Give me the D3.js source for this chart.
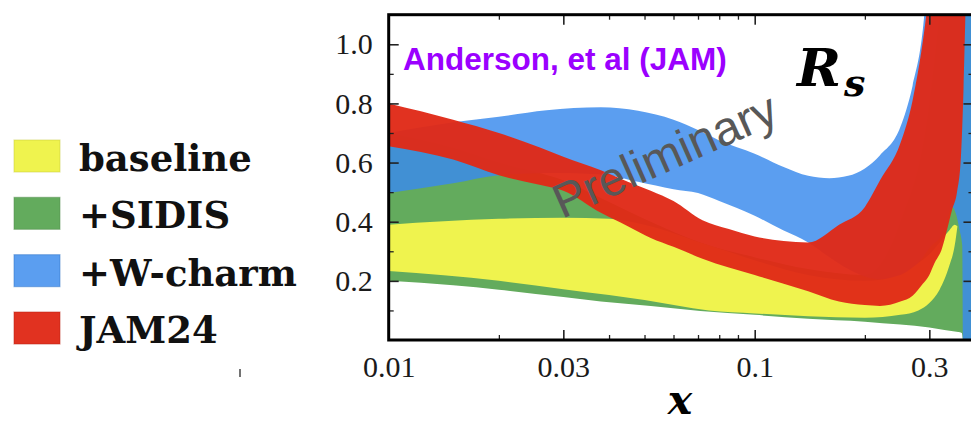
<!DOCTYPE html>
<html>
<head>
<meta charset="utf-8">
<script src="https://cdn.jsdelivr.net/npm/d3@7"></script>
<style>
  html, body { margin: 0; padding: 0; background: #fff; overflow: hidden; }
  svg { display: block; }
</style>
</head>
<body>
<svg id="chart" width="971" height="425"></svg>
<script>
// R_s(x): uncertainty bands of four global fits (baseline, +SIDIS, +W-charm, JAM24)

// ---- data ----
const seriesNames = ["baseline", "+SIDIS", "+W-charm", "JAM24"];

// baseline
const baselineX  = [0.01, 0.02, 0.03, 0.04, 0.05, 0.075, 0.1, 0.14, 0.2, 0.25, 0.28, 0.3, 0.32, 0.34, 0.352, 0.358];
const baselineLo = [0.233, 0.20, 0.172, 0.152, 0.135, 0.10, 0.09, 0.08, 0.075, 0.085, 0.10, 0.125, 0.17, 0.25, 0.32, 0.385];
const baselineHi = [0.39, 0.41, 0.413, 0.41, 0.39, 0.32, 0.27, 0.22, 0.20, 0.22, 0.26, 0.29, 0.33, 0.37, 0.39, 0.385];

// +SIDIS
const sidisX  = [0.01, 0.015, 0.02, 0.03, 0.038, 0.052, 0.071, 0.1, 0.14, 0.2, 0.25, 0.3, 0.33, 0.36, 0.368, 0.371, 0.4];
const sidisLo = [0.20, 0.185, 0.17, 0.145, 0.13, 0.115, 0.098, 0.085, 0.072, 0.062, 0.052, 0.042, 0.034, 0.027, 0.024, 0.0, 0.0];
const sidisHi = [0.70, 0.65, 0.60, 0.54, 0.48, 0.40, 0.33, 0.28, 0.24, 0.22, 0.40, 0.80, 1.30, 2.0, 2.2, 2.3, 2.5];

// +W-charm
const wcharmX  = [0.01, 0.015, 0.02, 0.027, 0.038, 0.048, 0.06, 0.07, 0.08, 0.1, 0.12, 0.14, 0.16, 0.18, 0.2, 0.22, 0.25, 0.27, 0.288, 0.3, 0.33, 0.346, 0.356, 0.363, 0.369, 0.371, 0.4];
const wcharmLo = [0.497, 0.53, 0.557, 0.565, 0.56, 0.535, 0.51, 0.497, 0.47, 0.42, 0.37, 0.33, 0.28, 0.24, 0.215, 0.205, 0.21, 0.24, 0.28, 0.31, 0.37, 0.45, 0.42, 0.37, 0.32, 0.0, 0.0];
const wcharmHi = [0.70, 0.736, 0.755, 0.777, 0.787, 0.775, 0.745, 0.71, 0.675, 0.63, 0.585, 0.555, 0.547, 0.555, 0.58, 0.625, 0.72, 0.86, 1.05, 1.3, 1.8, 2.0, 2.1, 2.2, 2.3, 2.4, 2.5];

// JAM24
const jamX  = [0.01, 0.015, 0.02, 0.026, 0.03, 0.038, 0.045, 0.052, 0.06, 0.072, 0.085, 0.1, 0.12, 0.14, 0.17, 0.2, 0.22, 0.25, 0.27, 0.288, 0.3, 0.31, 0.325, 0.335, 0.346, 0.357, 0.366, 0.372, 0.378];
const jamLo = [0.655, 0.61, 0.557, 0.524, 0.505, 0.43, 0.385, 0.345, 0.315, 0.275, 0.245, 0.22, 0.19, 0.165, 0.13, 0.118, 0.115, 0.13, 0.15, 0.19, 0.22, 0.26, 0.31, 0.37, 0.44, 0.50, 0.62, 0.85, 1.2];
const jamHi = [0.80, 0.745, 0.70, 0.65, 0.62, 0.574, 0.535, 0.505, 0.47, 0.405, 0.375, 0.35, 0.335, 0.33, 0.39, 0.45, 0.54, 0.665, 0.81, 1.01, 1.18, 1.32, 1.5, 1.6, 1.7, 1.8, 1.9, 2.0, 2.1];

// axis ticks
const xMajorTicks = [0.01, 0.03, 0.1, 0.3];
const xTickLabels = ["0.01", "0.03", "0.1", "0.3"];
const xMinorTicks = [0.02, 0.04, 0.05, 0.06, 0.07, 0.08, 0.09, 0.2];
const yMajorTicks = [0.2, 0.4, 0.6, 0.8, 1.0];
const yTickLabels = ["0.2", "0.4", "0.6", "0.8", "1.0"];
const yMinorTicks = [0.1, 0.3, 0.5, 0.7, 0.9];

// ---- layout ----
const svg = d3.select("#chart");
const frame = { left: 388.7, top: 14.7, bottom: 340 };
const xMax = 0.396;
const x = d3.scaleLog().domain([0.01, xMax])
  .range([frame.left, frame.left + 366 * Math.log10(xMax / 0.01)]);
const y = d3.scaleLinear().domain([0, 1.1]).range([frame.bottom, frame.top]);
frame.right = x(xMax);

const styles = {
  "baseline": { fill: "#eff34e", opacity: 1 },
  "+SIDIS":   { fill: "#63ab5d", opacity: 1 },
  "+W-charm": { fill: "#3a8aed", opacity: 0.83 },
  "JAM24":    { fill: "#e02a17", opacity: 0.96 }
};

svg.append("rect").attr("width", 971).attr("height", 425).attr("fill", "#fff");

svg.append("clipPath").attr("id", "plotClip")
  .append("rect").attr("x", frame.left).attr("y", frame.top)
  .attr("width", frame.right - frame.left).attr("height", frame.bottom - frame.top);

const zipBand = (xs, lo, hi) => xs.map((v, i) => ({ x: v, lo: lo[i], hi: hi[i] }));
const bands = [
  { name: "+SIDIS",   pts: zipBand(sidisX, sidisLo, sidisHi) },
  { name: "+W-charm", pts: zipBand(wcharmX, wcharmLo, wcharmHi) },
  { name: "baseline", pts: zipBand(baselineX, baselineLo, baselineHi) },
  { name: "JAM24",    pts: zipBand(jamX, jamLo, jamHi) }
];

const area = d3.area()
  .x(d => x(d.x))
  .y0(d => y(d.lo))
  .y1(d => y(d.hi))
  .curve(d3.curveMonotoneX);

const plotG = svg.append("g").attr("clip-path", "url(#plotClip)");
plotG.selectAll("path.band")
  .data(bands)
  .join("path")
  .attr("class", "band")
  .attr("d", d => area(d.pts))
  .attr("fill", d => styles[d.name].fill)
  .attr("fill-opacity", d => styles[d.name].opacity);

// ---- overlay texts inside the frame ----
svg.append("text")
  .attr("x", 403).attr("y", 70)
  .attr("font-family", "Liberation Sans, Arial, sans-serif")
  .attr("font-weight", "bold")
  .attr("font-size", 31.5)
  .attr("fill", "#9b00ff")
  .text("Anderson, et al (JAM)");

svg.append("text")
  .attr("x", 797).attr("y", 86)
  .attr("font-family", "DejaVu Serif, serif")
  .attr("font-weight", "bold").attr("font-style", "italic")
  .attr("font-size", 53)
  .attr("fill", "#000")
  .text("R");
svg.append("text")
  .attr("x", 844).attr("y", 96)
  .attr("font-family", "DejaVu Serif, serif")
  .attr("font-weight", "bold").attr("font-style", "italic")
  .attr("font-size", 38)
  .attr("fill", "#000")
  .text("s");

svg.append("text")
  .attr("transform", "translate(562,219) rotate(-24)")
  .attr("font-family", "Liberation Sans, Arial, sans-serif")
  .attr("font-size", 48)
  .attr("fill", "#585858")
  .text("Preliminary");

// ---- axes ----
const tickFont = g => g.selectAll("text")
  .attr("font-family", "Liberation Serif, Times New Roman, serif")
  .attr("font-size", 30)
  .attr("fill", "#1a1a1a");
const tickLines = (g, w) => {
  g.select(".domain").remove();
  g.selectAll("line").attr("stroke", "#222").attr("stroke-width", w);
};

const xLabel = d => xTickLabels[xMajorTicks.indexOf(d)];
const yLabel = d => yTickLabels[yMajorTicks.indexOf(d)];

svg.append("g").attr("transform", `translate(0,${frame.bottom})`)
  .call(d3.axisBottom(x).tickValues(xMajorTicks).tickFormat(xLabel).tickSize(-10).tickPadding(16))
  .call(g => tickLines(g, 1.6)).call(tickFont);
svg.append("g").attr("transform", `translate(0,${frame.bottom})`)
  .call(d3.axisBottom(x).tickValues(xMinorTicks).tickFormat("").tickSize(-5))
  .call(g => tickLines(g, 1.3));
svg.append("g").attr("transform", `translate(0,${frame.top})`)
  .call(d3.axisTop(x).tickValues(xMajorTicks).tickFormat("").tickSize(-10))
  .call(g => tickLines(g, 1.6));
svg.append("g").attr("transform", `translate(0,${frame.top})`)
  .call(d3.axisTop(x).tickValues(xMinorTicks).tickFormat("").tickSize(-5))
  .call(g => tickLines(g, 1.3));

svg.append("g").attr("transform", `translate(${frame.left},0)`)
  .call(d3.axisLeft(y).tickValues(yMajorTicks).tickFormat(yLabel).tickSize(-10).tickPadding(16))
  .call(g => tickLines(g, 1.6)).call(tickFont);
svg.append("g").attr("transform", `translate(${frame.left},0)`)
  .call(d3.axisLeft(y).tickValues(yMinorTicks).tickFormat("").tickSize(-5))
  .call(g => tickLines(g, 1.3));
svg.append("g").attr("transform", `translate(${frame.right},0)`)
  .call(d3.axisRight(y).tickValues(yMajorTicks).tickFormat("").tickSize(-10))
  .call(g => tickLines(g, 1.6));
svg.append("g").attr("transform", `translate(${frame.right},0)`)
  .call(d3.axisRight(y).tickValues(yMinorTicks).tickFormat("").tickSize(-5))
  .call(g => tickLines(g, 1.3));

// frame
svg.append("rect")
  .attr("x", frame.left).attr("y", frame.top)
  .attr("width", frame.right - frame.left).attr("height", frame.bottom - frame.top)
  .attr("fill", "none").attr("stroke", "#000").attr("stroke-width", 3);

// axis title
svg.append("text")
  .attr("x", 680).attr("y", 414)
  .attr("text-anchor", "middle")
  .attr("font-family", "DejaVu Serif, serif")
  .attr("font-weight", "bold").attr("font-style", "italic")
  .attr("font-size", 41)
  .attr("fill", "#000")
  .text("x");

// ---- legend ----
const legend = svg.append("g");
const rowY = d3.scalePoint().domain(seriesNames).range([140, 312]);
const rows = legend.selectAll("g.row").data(seriesNames).join("g")
  .attr("class", "row")
  .attr("transform", d => `translate(0,${rowY(d)})`);
rows.append("rect")
  .attr("x", 14).attr("y", 0).attr("width", 46).attr("height", 32)
  .attr("fill", d => styles[d].fill)
  .attr("fill-opacity", d => styles[d].opacity)
  .attr("stroke", d => d3.color(styles[d].fill).darker(0.5))
  .attr("stroke-opacity", 0.45)
  .attr("stroke-width", 1.2);
rows.append("text")
  .attr("x", 79).attr("y", 31)
  .attr("font-family", "DejaVu Serif, serif")
  .attr("font-weight", "bold")
  .attr("font-size", 37)
  .attr("fill", "#111")
  .text(d => d);

// small stray mark under the legend
svg.append("line")
  .attr("x1", 240).attr("x2", 240).attr("y1", 369).attr("y2", 377)
  .attr("stroke", "#444").attr("stroke-width", 1.5);
</script>
</body>
</html>
